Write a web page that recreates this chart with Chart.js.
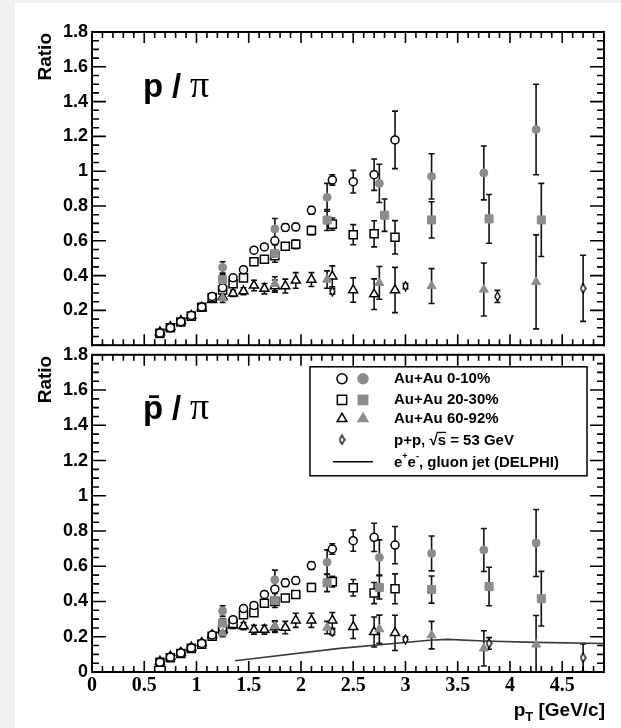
<!DOCTYPE html>
<html>
<head>
<meta charset="utf-8">
<script src="https://cdn.jsdelivr.net/npm/chart.js@4.4.1/dist/chart.umd.min.js"></script>
<style>
  html, body { margin: 0; padding: 0; background: #f0f0f0; width: 621px; height: 728px; overflow: hidden; }
  #sheet { position: absolute; left: 15px; top: 3px; width: 606px; height: 725px; background: #fff; }
  #cTop { position: absolute; left: 0; top: 0; }
  #cBot { position: absolute; left: 0; top: 340px; }
</style>
</head>
<body>
<div id="sheet"></div>
<canvas id="cTop" width="621" height="360"></canvas>
<canvas id="cBot" width="621" height="388"></canvas>
<script>
// ---- transverse-momentum bins (GeV/c) ----
const ptOpen = [0.65, 0.75, 0.85, 0.95, 1.05, 1.15, 1.25, 1.35, 1.45, 1.55, 1.65, 1.75, 1.85, 1.95, 2.1, 2.3, 2.5, 2.7, 2.9];
const ptFilled = [1.25, 1.75, 2.25, 2.75, 3.25, 3.75, 4.25];
const ptFilledSqTop = [1.25, 1.75, 2.25, 2.8, 3.25, 3.8, 4.3];
const ptFilledSqBot = [1.25, 1.75, 2.25, 2.75, 3.25, 3.8, 4.3];
const ptPPTop = [2.3, 3.0, 3.88, 4.7];
const ptPPBot = [2.3, 3.0, 3.8, 4.7];

// ---- p / pi ----
const pOpen010     = [0.07, 0.10, 0.135, 0.17, 0.22, 0.28, 0.33, 0.387, 0.434, 0.546, 0.565, 0.60, 0.677, 0.68, 0.775, 0.95, 0.94, 0.98, 1.18];
const pOpen010Err  = [0.004, 0.004, 0.005, 0.005, 0.006, 0.007, 0.008, 0.01, 0.01, 0.012, 0.012, 0.015, 0.02, 0.02, 0.022, 0.03, 0.065, 0.09, 0.165];
const pOpen2030    = [0.068, 0.10, 0.133, 0.167, 0.218, 0.274, 0.317, 0.353, 0.387, 0.48, 0.494, 0.514, 0.569, 0.58, 0.659, 0.696, 0.635, 0.64, 0.62];
const pOpen2030Err = [0.004, 0.004, 0.005, 0.005, 0.006, 0.007, 0.008, 0.01, 0.01, 0.012, 0.012, 0.015, 0.02, 0.025, 0.025, 0.035, 0.058, 0.075, 0.096];
const pOpen6092    = [0.075, 0.105, 0.14, 0.17, 0.215, 0.26, 0.278, 0.298, 0.31, 0.343, 0.325, 0.34, 0.34, 0.372, 0.377, 0.396, 0.317, 0.293, 0.317];
const pOpen6092Err = [0.004, 0.005, 0.006, 0.006, 0.008, 0.01, 0.015, 0.018, 0.02, 0.03, 0.03, 0.035, 0.04, 0.045, 0.04, 0.06, 0.07, 0.088, 0.13];
const pFill010     = [0.447, 0.668, 0.85, 0.93, 0.97, 0.99, 1.24];
const pFill010Err  = [0.033, 0.06, 0.08, 0.11, 0.13, 0.155, 0.26];
const pFill2030    = [0.377, 0.527, 0.719, 0.747, 0.72, 0.726, 0.72];
const pFill2030Err = [0.03, 0.05, 0.06, 0.093, 0.104, 0.14, 0.21];
const pFill6092    = [0.27, 0.353, 0.377, 0.358, 0.34, 0.32, 0.364];
const pFill6092Err = [0.025, 0.04, 0.05, 0.094, 0.1, 0.152, 0.27];
const pPP          = [0.31, 0.34, 0.28, 0.327];
const pPPErr       = [0.015, 0.015, 0.035, 0.19];

// ---- pbar / pi ----
const aOpen010     = [0.055, 0.083, 0.108, 0.136, 0.162, 0.21, 0.25, 0.297, 0.36, 0.378, 0.44, 0.47, 0.506, 0.519, 0.604, 0.698, 0.745, 0.764, 0.72];
const aOpen010Err  = [0.004, 0.004, 0.005, 0.005, 0.006, 0.007, 0.008, 0.01, 0.01, 0.012, 0.012, 0.015, 0.02, 0.02, 0.022, 0.03, 0.06, 0.08, 0.106];
const aOpen2030    = [0.055, 0.081, 0.105, 0.134, 0.158, 0.203, 0.243, 0.275, 0.325, 0.337, 0.39, 0.40, 0.42, 0.44, 0.48, 0.513, 0.478, 0.448, 0.472];
const aOpen2030Err = [0.004, 0.004, 0.005, 0.005, 0.006, 0.007, 0.008, 0.01, 0.01, 0.012, 0.012, 0.015, 0.018, 0.02, 0.022, 0.03, 0.047, 0.06, 0.085];
const aOpen6092    = [0.06, 0.088, 0.11, 0.14, 0.165, 0.21, 0.24, 0.265, 0.26, 0.24, 0.24, 0.255, 0.252, 0.293, 0.293, 0.293, 0.256, 0.227, 0.222];
const aOpen6092Err = [0.004, 0.005, 0.006, 0.006, 0.008, 0.01, 0.015, 0.018, 0.02, 0.025, 0.025, 0.03, 0.035, 0.04, 0.04, 0.045, 0.066, 0.085, 0.1];
const aFill010     = [0.346, 0.523, 0.623, 0.65, 0.673, 0.692, 0.732];
const aFill010Err  = [0.03, 0.055, 0.07, 0.1, 0.099, 0.122, 0.19];
const aFill2030    = [0.278, 0.406, 0.506, 0.48, 0.468, 0.485, 0.416];
const aFill2030Err = [0.025, 0.04, 0.05, 0.066, 0.077, 0.109, 0.155];
const aFill6092    = [0.22, 0.26, 0.252, 0.243, 0.209, 0.134, 0.156];
const aFill6092Err = [0.02, 0.03, 0.035, 0.08, 0.078, 0.1, 0.165];
const aPP          = [0.227, 0.185, 0.162, 0.081];
const aPPErr       = [0.015, 0.015, 0.033, 0.078];

// ---- e+e- gluon jet (DELPHI) curve ----
const delphiPt    = [1.37, 2.37, 3.23, 3.4, 3.75, 4.25, 4.9];
const delphiRatio = [0.064, 0.134, 0.18, 0.185, 0.176, 0.168, 0.162];

// ---- axis setup ----
const X_MIN = 0, X_MAX = 4.9, Y_MIN = 0, Y_MAX = 1.8;
const xTickStep = 0.5, yTickStep = 0.2;

const GRAY = '#8c8c8c';
const SANS = '"Liberation Sans", Arial, Helvetica, sans-serif';
const SERIF = '"Liberation Serif", "Times New Roman", serif';

function fmt(v) { return String(parseFloat(Number(v).toFixed(2))); }
function pts(xs, ys) { return xs.map((x, i) => ({ x: x, y: ys[i] })); }

// narrow open diamond used for the p+p points
function diamondImage() {
  const w = 7, h = 11, c = document.createElement('canvas');
  c.width = w; c.height = h;
  const g = c.getContext('2d');
  g.beginPath();
  g.moveTo(w / 2, 1); g.lineTo(w - 1, h / 2); g.lineTo(w / 2, h - 1); g.lineTo(1, h / 2);
  g.closePath();
  g.fillStyle = '#fff'; g.fill();
  g.lineWidth = 1.4; g.strokeStyle = '#000'; g.stroke();
  return c;
}
const DIAMOND = diamondImage();

const RADIUS = { circle: 4, rect: 5.7, triangle: 5.2 };

function markers(label, xs, ys, errs, style, filled) {
  return {
    label: label,
    data: pts(xs, ys),
    errors: errs,
    showLine: false,
    pointStyle: style,
    pointRadius: RADIUS[style] || 5,
    pointHoverRadius: RADIUS[style] || 5,
    pointBackgroundColor: filled ? GRAY : '#fff',
    pointBorderColor: filled ? GRAY : '#000',
    pointBorderWidth: filled ? 1 : 1.5
  };
}
function ppMarkers(xs, ys, errs) {
  return {
    label: 'p+p, sqrt(s) = 53 GeV', data: pts(xs, ys), errors: errs, showLine: false,
    pointStyle: DIAMOND, pointRadius: 5, pointHoverRadius: 5
  };
}

// error bars with end caps, drawn underneath the markers
const errorBars = {
  id: 'errorBars',
  beforeDatasetsDraw(chart) {
    const { ctx, chartArea: a, scales: { x, y } } = chart;
    ctx.save();
    ctx.beginPath(); ctx.rect(a.left, a.top, a.right - a.left, a.bottom - a.top); ctx.clip();
    ctx.strokeStyle = '#111'; ctx.lineWidth = 1.6;
    chart.data.datasets.forEach(ds => {
      if (!ds.errors) return;
      ds.data.forEach((p, i) => {
        const e = ds.errors[i];
        if (!e) return;
        const px = x.getPixelForValue(p.x);
        const top = y.getPixelForValue(p.y + e), bot = y.getPixelForValue(p.y - e);
        ctx.beginPath();
        ctx.moveTo(px, top); ctx.lineTo(px, bot);
        ctx.moveTo(px - 3, top); ctx.lineTo(px + 3, top);
        ctx.moveTo(px - 3, bot); ctx.lineTo(px + 3, bot);
        ctx.stroke();
      });
    });
    ctx.restore();
  }
};

// frame with inward ticks on all four sides
const frame = {
  id: 'frame',
  afterDatasetsDraw(chart) {
    const { ctx, chartArea: a, scales: { x, y } } = chart;
    ctx.save();
    ctx.strokeStyle = '#000';
    ctx.lineWidth = 1.6;
    ctx.beginPath();
    const nx = Math.round((X_MAX - X_MIN) / 0.1);
    for (let i = 0; i <= nx; i++) {
      const px = x.getPixelForValue(X_MIN + i * 0.1);
      const len = (i % 5 === 0) ? 11 : 6;
      ctx.moveTo(px, a.bottom); ctx.lineTo(px, a.bottom - len);
      ctx.moveTo(px, a.top); ctx.lineTo(px, a.top + len);
    }
    const ny = Math.round((Y_MAX - Y_MIN) / 0.05);
    for (let j = 0; j <= ny; j++) {
      const py = y.getPixelForValue(Y_MIN + j * 0.05);
      const len = (j % 4 === 0) ? 14 : 7;
      ctx.moveTo(a.left, py); ctx.lineTo(a.left + len, py);
      ctx.moveTo(a.right, py); ctx.lineTo(a.right - len, py);
    }
    ctx.stroke();
    ctx.lineWidth = 2;
    ctx.strokeRect(a.left, a.top, a.right - a.left, a.bottom - a.top);
    ctx.restore();
  }
};

function drawRatio(ctx, cx, topY) {
  ctx.save();
  ctx.translate(cx, topY);
  ctx.rotate(-Math.PI / 2);
  ctx.font = 'bold 19px ' + SANS;
  ctx.fillStyle = '#000';
  ctx.textAlign = 'right';
  ctx.textBaseline = 'middle';
  ctx.fillText('Ratio', 0, 0);
  ctx.restore();
}

function drawPanelTitle(ctx, x, baseline, anti) {
  ctx.save();
  ctx.fillStyle = '#000';
  ctx.textBaseline = 'alphabetic';
  ctx.textAlign = 'left';
  ctx.font = 'bold 33px ' + SANS;
  ctx.fillText(anti ? 'p\u0304' : 'p', x, baseline);
  ctx.fillText('/', x + 29, baseline);
  ctx.font = '38px ' + SERIF;
  ctx.fillText('\u03C0', x + 47, baseline);
  ctx.restore();
}

const yAxis = (hideZero) => ({
  min: Y_MIN, max: Y_MAX,
  afterFit: s => { s.width = 92; },
  ticks: {
    stepSize: yTickStep, includeBounds: false, padding: 4, color: '#000',
    font: { family: SANS, size: 18, weight: 'bold' },
    callback: v => (hideZero && Math.abs(v) < 1e-9) ? '' : fmt(v)
  },
  grid: { display: false, drawTicks: false },
  border: { display: false }
});

const common = {
  responsive: false,
  animation: false,
  devicePixelRatio: 1,
  events: [],
  plugins: { legend: { display: false }, tooltip: { enabled: false } }
};

// ---------------- top panel: p / pi ----------------
const topText = {
  id: 'topText',
  afterDraw(chart) {
    const ctx = chart.ctx, a = chart.chartArea;
    drawRatio(ctx, 46, a.top + 1);
    drawPanelTitle(ctx, 143, a.top + 65, false);
  }
};

new Chart(document.getElementById('cTop'), {
  type: 'scatter',
  data: {
    datasets: [
      markers('Au+Au 0-10%', ptFilled, pFill010, pFill010Err, 'circle', true),
      markers('Au+Au 20-30%', ptFilledSqTop, pFill2030, pFill2030Err, 'rect', true),
      markers('Au+Au 60-92%', ptFilled, pFill6092, pFill6092Err, 'triangle', true),
      markers('Au+Au 0-10%', ptOpen, pOpen010, pOpen010Err, 'circle', false),
      markers('Au+Au 20-30%', ptOpen, pOpen2030, pOpen2030Err, 'rect', false),
      markers('Au+Au 60-92%', ptOpen, pOpen6092, pOpen6092Err, 'triangle', false),
      ppMarkers(ptPPTop, pPP, pPPErr)
    ]
  },
  options: Object.assign({}, common, {
    layout: { padding: { top: 32, right: 17, bottom: 7, left: 0 } },
    scales: {
      x: { type: 'linear', min: X_MIN, max: X_MAX, display: false },
      y: yAxis(true)
    }
  }),
  plugins: [errorBars, frame, topText]
});

// ---------------- bottom panel: pbar / pi ----------------
function legendMarker(ctx, style, x, y, filled) {
  ctx.save();
  ctx.fillStyle = filled ? GRAY : '#fff';
  ctx.strokeStyle = filled ? GRAY : '#000';
  const r = { circle: 5, rect: 6.6, triangle: 5.6 }[style];
  Chart.helpers.drawPoint(ctx, { pointStyle: style, radius: r, rotation: 0, borderWidth: filled ? 1 : 1.5 }, x, y);
  ctx.restore();
}

const bottomText = {
  id: 'bottomText',
  afterDraw(chart) {
    const ctx = chart.ctx, a = chart.chartArea;
    drawRatio(ctx, 46, a.top + 1);
    drawPanelTitle(ctx, 143, a.top + 64, true);

    // legend box
    const L = 310, T = a.top + 12, R = 587, B = a.top + 121;
    ctx.save();
    ctx.fillStyle = '#fff';
    ctx.fillRect(L, T, R - L, B - T);
    ctx.lineWidth = 1.5; ctx.strokeStyle = '#000';
    ctx.strokeRect(L, T, R - L, B - T);

    const rows = [T + 12, T + 33, T + 52, T + 73, T + 95];
    const mx1 = 342, mx2 = 363, tx = 394;
    const styles = ['circle', 'rect', 'triangle'];
    const labels = ['Au+Au 0-10%', 'Au+Au 20-30%', 'Au+Au 60-92%'];
    ctx.font = 'bold 15px ' + SANS;
    ctx.textBaseline = 'middle';
    ctx.textAlign = 'left';
    for (let i = 0; i < 3; i++) {
      legendMarker(ctx, styles[i], mx1, rows[i], false);
      legendMarker(ctx, styles[i], mx2, rows[i], true);
      ctx.fillStyle = '#000';
      ctx.fillText(labels[i], tx, rows[i]);
    }
    // p+p row
    ctx.drawImage(DIAMOND, mx1 - DIAMOND.width / 2, rows[3] - DIAMOND.height / 2);
    ctx.fillStyle = '#000';
    let cx = tx;
    const by = rows[3] + 5;
    ctx.textBaseline = 'alphabetic';
    ctx.fillText('p+p, ', cx, by); cx += ctx.measureText('p+p, ').width;
    ctx.fillText('\u221A', cx, by); cx += ctx.measureText('\u221A').width;
    const sW = ctx.measureText('s').width;
    ctx.fillText('s', cx, by);
    ctx.fillRect(cx - 1, by - 13, sW + 1, 1.3);
    cx += sW;
    ctx.fillText(' = 53 GeV', cx, by);

    // e+e- row
    ctx.strokeStyle = '#000'; ctx.lineWidth = 1.5;
    ctx.beginPath(); ctx.moveTo(333, rows[4]); ctx.lineTo(373, rows[4]); ctx.stroke();
    const ey = rows[4] + 5;
    cx = tx;
    ctx.font = 'bold 15px ' + SANS;
    ctx.fillText('e', cx, ey); cx += ctx.measureText('e').width;
    ctx.font = 'bold 9px ' + SANS;
    ctx.fillText('+', cx, ey - 8); cx += ctx.measureText('+').width;
    ctx.font = 'bold 15px ' + SANS;
    ctx.fillText('e', cx, ey); cx += ctx.measureText('e').width;
    ctx.font = 'bold 9px ' + SANS;
    ctx.fillText('-', cx, ey - 8); cx += ctx.measureText('-').width;
    ctx.font = 'bold 15px ' + SANS;
    ctx.fillText(', gluon jet (DELPHI)', cx, ey);
    ctx.restore();

    // x-axis title p_T [GeV/c], right aligned with the frame
    ctx.save();
    ctx.fillStyle = '#000';
    ctx.textBaseline = 'alphabetic';
    const big = 'bold 19px ' + SANS, small = 'bold 13px ' + SANS;
    ctx.font = big; const wp = ctx.measureText('p').width, wr = ctx.measureText(' [GeV/c]').width;
    ctx.font = small; const wt = ctx.measureText('T').width;
    let x0 = a.right + 1 - (wp + wt + wr);
    const yb = a.bottom + 44;
    ctx.font = big; ctx.fillText('p', x0, yb); x0 += wp;
    ctx.font = small; ctx.fillText('T', x0, yb + 5); x0 += wt;
    ctx.font = big; ctx.fillText(' [GeV/c]', x0, yb);
    ctx.restore();
  }
};

new Chart(document.getElementById('cBot'), {
  type: 'scatter',
  data: {
    datasets: [
      markers('Au+Au 0-10%', ptFilled, aFill010, aFill010Err, 'circle', true),
      markers('Au+Au 20-30%', ptFilledSqBot, aFill2030, aFill2030Err, 'rect', true),
      markers('Au+Au 60-92%', ptFilled, aFill6092, aFill6092Err, 'triangle', true),
      markers('Au+Au 0-10%', ptOpen, aOpen010, aOpen010Err, 'circle', false),
      markers('Au+Au 20-30%', ptOpen, aOpen2030, aOpen2030Err, 'rect', false),
      markers('Au+Au 60-92%', ptOpen, aOpen6092, aOpen6092Err, 'triangle', false),
      ppMarkers(ptPPBot, aPP, aPPErr),
      {
        label: 'e+e-, gluon jet (DELPHI)',
        data: pts(delphiPt, delphiRatio),
        showLine: true, pointRadius: 0, pointHoverRadius: 0,
        borderColor: '#3a3a3a', borderWidth: 1.6, tension: 0
      }
    ]
  },
  options: Object.assign({}, common, {
    layout: { padding: { top: 13, right: 17, bottom: 0, left: 0 } },
    scales: {
      x: {
        type: 'linear', min: X_MIN, max: X_MAX,
        afterFit: s => { s.height = 56; },
        ticks: {
          stepSize: xTickStep, includeBounds: false, autoSkip: false, maxRotation: 0, padding: 2,
          color: '#000', font: { family: SERIF, size: 20, weight: 'bold' },
          callback: v => fmt(v)
        },
        grid: { display: false, drawTicks: false },
        border: { display: false }
      },
      y: yAxis(false)
    }
  }),
  plugins: [errorBars, frame, bottomText]
});
</script>
</body>
</html>
